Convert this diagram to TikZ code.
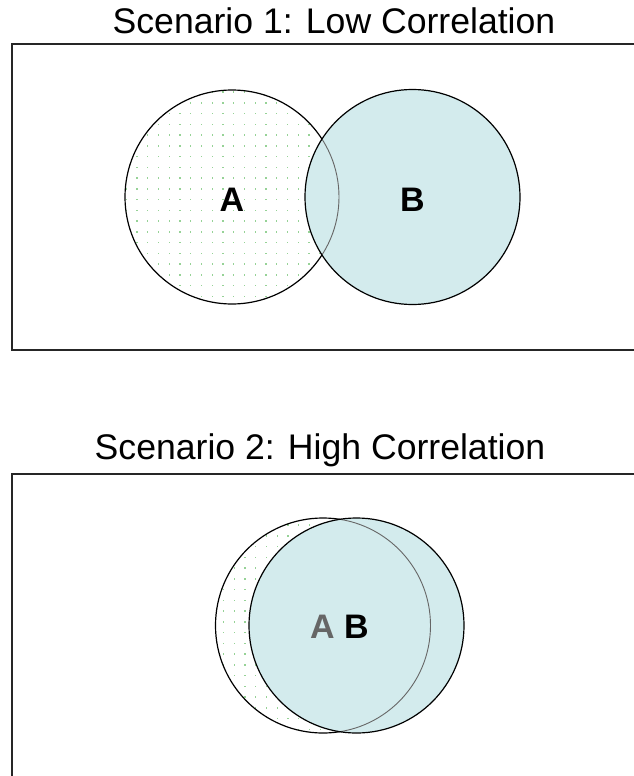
\documentclass[tikz,border=0pt]{standalone}
\usepackage{fontspec}
\setmainfont{Liberation Sans}
\begin{document}
\begin{tikzpicture}[x=1pt,y=-1pt]
\definecolor{bfill}{RGB}{211,235,237}
\definecolor{dotgreen}{RGB}{150,210,150}
\tikzset{
 frame/.style={draw=black!85,line width=1.6pt},
 circ/.style={circle,draw=black,line width=1.2pt,inner sep=0pt,minimum size=214pt},
 title/.style={font=\fontsize{35.6}{40}\selectfont,anchor=base,inner sep=0pt},
 lbl/.style={font=\fontsize{34}{40}\selectfont\bfseries,anchor=base,inner sep=0pt},
 hidden/.style={draw=black!60,line width=0.9pt},
 dot/.style={fill=dotgreen},
}
\useasboundingbox (0,0) rectangle (634,776);
\fill[white] (0,0) rectangle (634,776);

% ---------- Scenario 1 ----------
\node[title] (t1) at (334,34) {Scenario 1: Low Correlation};
\draw[frame] (634,44) -- (12,44) -- (12,350) -- (634,350);

\begin{scope}
  \clip (232,197) circle (107);
  \foreach \i in {0,...,21}{
    \foreach \j in {0,...,21}{
      \fill[dot] ({114.8+\i*10.75},{82+\j*10.75}) rectangle +(1.3,-1.3);
    }
  }
\end{scope}
\node[circ] (A1) at (232,197) {};
\node[lbl] (la1) at (232,211) {A};
\fill[bfill] (412.5,197) circle (107.5);
\begin{scope}
  \clip (412.5,197) circle (107.5);
  \draw[hidden] (232,197) circle (107);
\end{scope}
\node[circ,minimum size=215pt] (B1) at (412.5,197) {};
\node[lbl] (lb1) at (412.5,211) {B};

% ---------- Scenario 2 ----------
\node[title] (t2) at (320,459) {Scenario 2: High Correlation};
\draw[frame] (634,474) -- (12,474) -- (12,776);

\begin{scope}
  \clip (323,625.5) circle (107.5);
  \foreach \i in {0,...,21}{
    \foreach \j in {0,...,21}{
      \fill[dot] ({212+\i*10.75},{515+\j*10.75}) rectangle +(1.3,-1.3);
    }
  }
\end{scope}
\node[circ,minimum size=215pt] (A2) at (323,625.5) {};
\fill[bfill] (356.5,625.5) circle (107.5);
\begin{scope}
  \clip (356.5,625.5) circle (107.5);
  \draw[hidden] (323,625.5) circle (107.5);
\end{scope}
\node[lbl,text=black!60] (la2) at (322.5,638) {A};
\node[circ,minimum size=215pt] (B2) at (356.5,625.5) {};
\node[lbl] (lb2) at (356.5,638) {B};
\end{tikzpicture}
\end{document}
